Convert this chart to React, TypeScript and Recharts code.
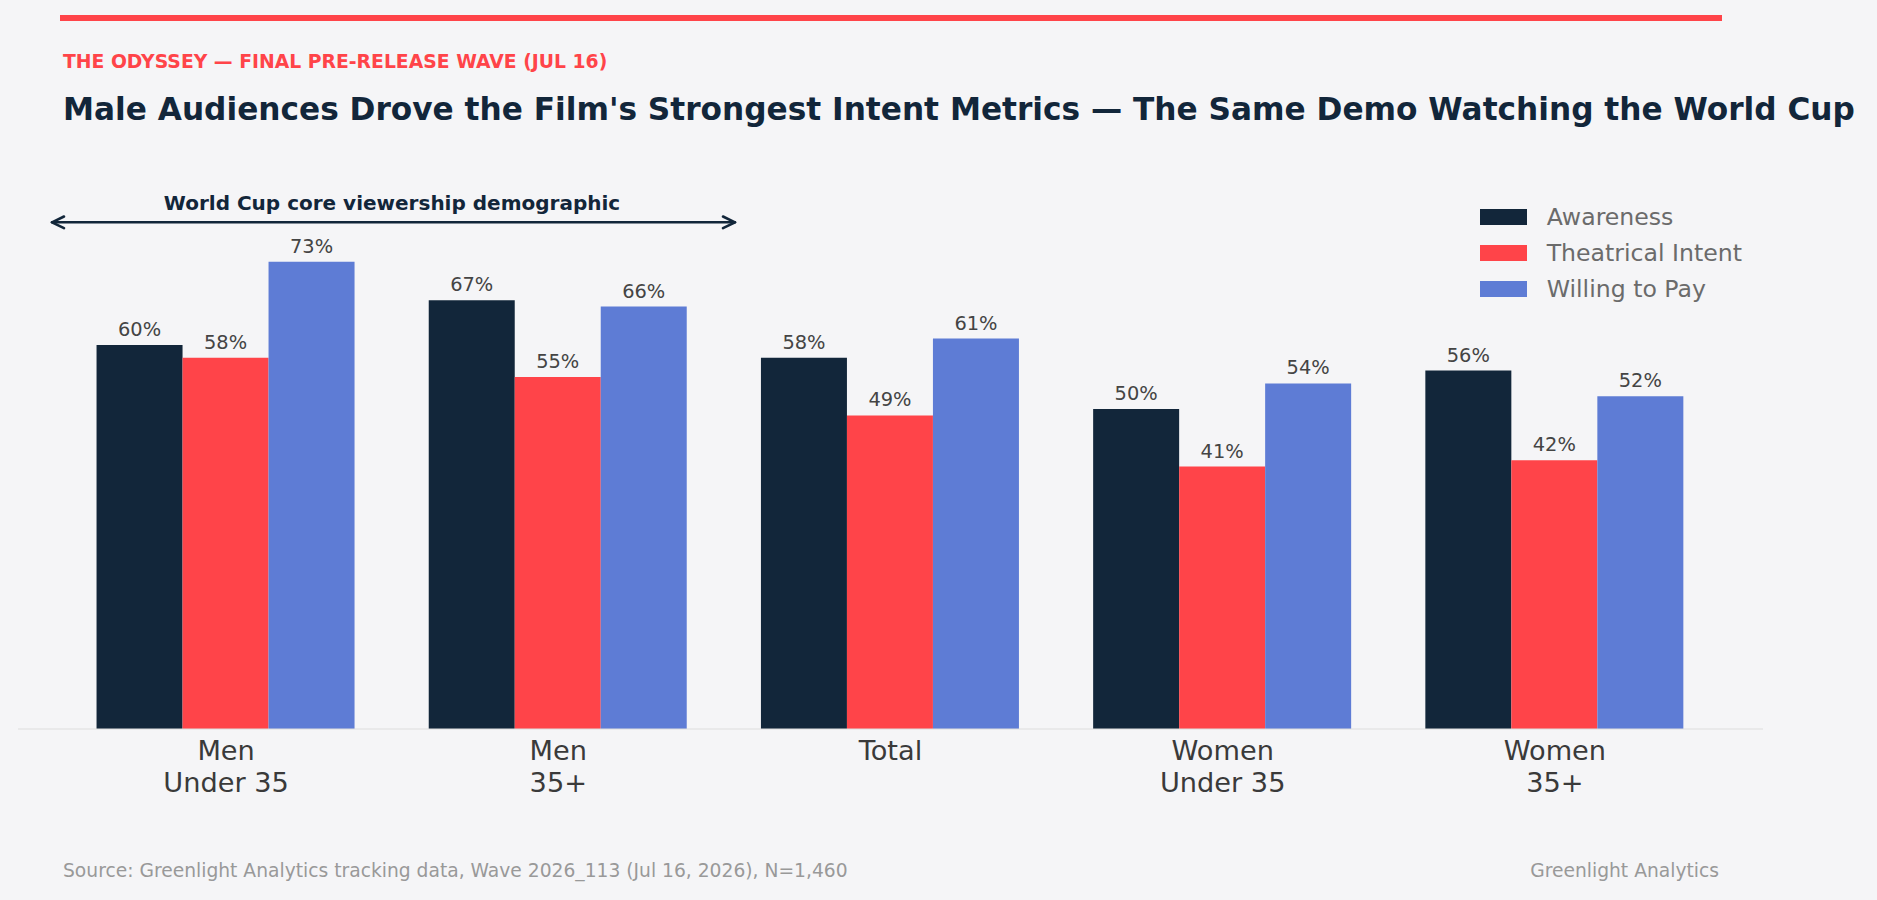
import { Bar, BarChart, LabelList, XAxis, YAxis } from "recharts";

const categories = ["Men\nUnder 35", "Men\n35+", "Total", "Women\nUnder 35", "Women\n35+"];
const awareness = [60, 67, 58, 50, 56];
const theatricalIntent = [58, 55, 49, 41, 42];
const willingToPay = [73, 66, 61, 54, 52];

const seriesNames = ["Awareness", "Theatrical Intent", "Willing to Pay"];

const NAVY = "#12263A";
const RED = "#FF4449";
const BLUE = "#5E7CD5";
const BG = "#F5F5F7";
const FONT = "'DejaVu Sans', sans-serif";

const data = categories.map((name, i) => ({
  name,
  awareness: awareness[i],
  intent: theatricalIntent[i],
  pay: willingToPay[i],
}));

const seriesColors = [NAVY, RED, BLUE];

function CategoryTick({ x, y, payload }: any) {
  const lines = String(payload.value).split("\n");
  return (
    <text
      x={x}
      y={y}
      textAnchor="middle"
      fontFamily={FONT}
      fontSize={27.2}
      fill="#3a3a3a"
    >
      {lines.map((line, i) => (
        <tspan key={i} x={x} dy={i === 0 ? 31 : 32}>
          {line}
        </tspan>
      ))}
    </text>
  );
}

const pct = (v: any) => `${v}%`;

export default function App() {
  return (
    <div
      style={{
        position: "absolute",
        left: 0,
        top: 0,
        width: 1877,
        height: 900,
        background: BG,
        fontFamily: FONT,
        overflow: "hidden",
      }}
    >
      <BarChart
        width={1877}
        height={900}
        data={data}
        margin={{ top: 89, right: 114, left: 18, bottom: 71 }}
        barCategoryGap="11%"
        barGap={0}
        style={{ position: "absolute", left: 0, top: 0 }}
      >
        <XAxis
          dataKey="name"
          height={100}
          tickLine={false}
          tickSize={0}
          tickMargin={0}
          interval={0}
          padding={{ left: 42, right: 42 }}
          axisLine={{ stroke: "#dddddd", strokeWidth: 1 }}
          tick={<CategoryTick />}
        />
        <YAxis hide domain={[0, 100]} />
        <Bar dataKey="awareness" fill={NAVY} isAnimationActive={false}>
          <LabelList dataKey="awareness" position="top" offset={9} formatter={pct} fill="#444444" fontSize={19.4} fontFamily={FONT} />
        </Bar>
        <Bar dataKey="intent" fill={RED} isAnimationActive={false}>
          <LabelList dataKey="intent" position="top" offset={9} formatter={pct} fill="#444444" fontSize={19.4} fontFamily={FONT} />
        </Bar>
        <Bar dataKey="pay" fill={BLUE} isAnimationActive={false}>
          <LabelList dataKey="pay" position="top" offset={9} formatter={pct} fill="#444444" fontSize={19.4} fontFamily={FONT} />
        </Bar>
      </BarChart>

      <svg
        width={1877}
        height={900}
        style={{ position: "absolute", left: 0, top: 0, pointerEvents: "none" }}
      >
        <rect x={60} y={15} width={1662} height={6} fill={RED} />
        <text x={63} y={67.7} fontFamily={FONT} fontWeight="bold" fontSize={18.8} fill={RED}>
          THE ODYSSEY — FINAL PRE-RELEASE WAVE (JUL 16)
        </text>
        <text x={63} y={120.3} fontFamily={FONT} fontWeight="bold" fontSize={31.2} fill={NAVY}>
          Male Audiences Drove the Film's Strongest Intent Metrics — The Same Demo Watching the World Cup
        </text>
        <text x={392} y={210} textAnchor="middle" fontFamily={FONT} fontWeight="bold" fontSize={20} fill={NAVY}>
          World Cup core viewership demographic
        </text>
        <g stroke={NAVY} strokeWidth={2.6} fill="none" strokeLinecap="round" strokeLinejoin="round">
          <line x1={52} y1={222.3} x2={735} y2={222.3} />
          <polyline points="64,216.5 52,222.3 64,228.1" />
          <polyline points="723,216.5 735,222.3 723,228.1" />
        </g>
        <text x={63} y={876.7} fontFamily={FONT} fontSize={18.7} fill="#999999">
          Source: Greenlight Analytics tracking data, Wave 2026_113 (Jul 16, 2026), N=1,460
        </text>
        <text x={1719} y={876.7} textAnchor="end" fontFamily={FONT} fontSize={18.7} fill="#999999">
          Greenlight Analytics
        </text>
      </svg>

      <div style={{ position: "absolute", left: 1480, top: 198.5 }}>
        {seriesNames.map((name, i) => (
          <div key={name} style={{ display: "flex", alignItems: "center", height: 36 }}>
            <div style={{ width: 47, height: 16, background: seriesColors[i], marginRight: 19.7 }} />
            <span style={{ fontSize: 23.6, lineHeight: "36px", color: "#6b6b6b", whiteSpace: "nowrap" }}>
              {name}
            </span>
          </div>
        ))}
      </div>
    </div>
  );
}
